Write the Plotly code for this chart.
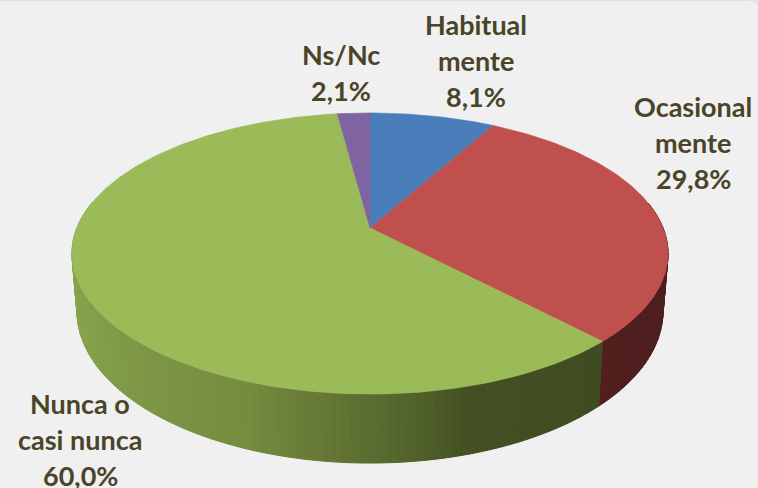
import math
import plotly.graph_objects as go

# Data
categories = ["Habitualmente", "Ocasionalmente", "Nunca o casi nunca", "Ns/Nc"]
values = [8.1, 29.8, 60.0, 2.1]
label_lines = [
    ["Habitual", "mente", "8,1%"],
    ["Ocasional", "mente", "29,8%"],
    ["Nunca o", "casi nunca", "60,0%"],
    ["Ns/Nc", "2,1%"],
]
top_colors = ["#4a7ebb", "#c0504d", "#9bbb59", "#8064a2"]

# Side shading stops: (x pixel, colour) per slice
green_stops = [(72, (134, 163, 76)), (130, (126, 152, 70)), (240, (118, 140, 64)),
               (330, (100, 118, 52)), (400, (84, 102, 44)), (470, (66, 80, 34)), (600, (62, 76, 32))]
red_stops = [(595, (84, 30, 30)), (668, (76, 30, 30))]
blue_stops = [(370, (60, 90, 130)), (500, (60, 90, 130))]
purple_stops = [(340, (90, 70, 115)), (372, (90, 70, 115))]
side_stops = [blue_stops, red_stops, green_stops, purple_stops]

# Perspective of the disc
CX, CY, D, F, G = 370.0, 228.0, 5.51, 1615.0, 749.0
SX, SY, DEPTH = 0.983, 1.08, 55.7


def rim(theta):
    X, Y = math.sin(theta), math.cos(theta)
    return CX + F * X / (D + Y), CY - G * Y / (D + Y)


def low(theta):
    x, y = rim(theta)
    return CX + (x - CX) * SX, CY + (y - CY) * SY + DEPTH


def shade(x, stops):
    if x <= stops[0][0]:
        c = stops[0][1]
    elif x >= stops[-1][0]:
        c = stops[-1][1]
    else:
        for (a, ca), (b, cb) in zip(stops, stops[1:]):
            if a <= x <= b:
                t = (x - a) / (b - a)
                c = tuple(ca[i] + (cb[i] - ca[i]) * t for i in range(3))
                break
    return "rgb(%d,%d,%d)" % tuple(round(v) for v in c)


fig = go.Figure()
total = sum(values)
edges = [0.0]
for v in values:
    edges.append(edges[-1] + v / total * 2 * math.pi)


def add_poly(xs, ys, color, lw=1.0):
    fig.add_trace(go.Scatter(x=xs, y=ys, mode="lines", fill="toself", fillcolor=color,
                             line=dict(color=color, width=lw), hoverinfo="skip", showlegend=False))


# Side wall (only the part facing the viewer is visible)
for i in range(len(values)):
    a0, a1 = edges[i], edges[i + 1]
    n = max(2, int((a1 - a0) / math.radians(1.5)))
    for k in range(n):
        t0 = a0 + (a1 - a0) * k / n
        t1 = a0 + (a1 - a0) * (k + 1) / n
        if math.cos((t0 + t1) / 2) > 0.2:
            continue
        p = [rim(t0), rim(t1), low(t1), low(t0)]
        mid = (p[0][0] + p[1][0]) / 2
        add_poly([q[0] for q in p] + [p[0][0]], [q[1] for q in p] + [p[0][1]],
                 shade(mid, side_stops[i]), 1.0)

# Top face
for i, color in enumerate(top_colors):
    a0, a1 = edges[i], edges[i + 1]
    n = max(8, int((a1 - a0) / math.radians(1)))
    pts = [rim(a0 + (a1 - a0) * k / n) for k in range(n + 1)]
    add_poly([CX] + [q[0] for q in pts] + [CX], [CY] + [q[1] for q in pts] + [CY], color, 0.6)

# Labels: (x, first-line y) anchor for each category
label_anchor = [(476, 24), (693, 106), (80, 403), (341, 54)]
LINE_STEP = 36
for lines, (lx, ly) in zip(label_lines, label_anchor):
    for j, line in enumerate(lines):
        fig.add_annotation(x=lx, y=ly + j * LINE_STEP, text="<b>%s</b>" % line, showarrow=False,
                           xanchor="center", yanchor="middle",
                           font=dict(family="Lato", size=27, color="#4a4429"))

fig.update_layout(
    width=758, height=488, margin=dict(l=0, r=0, t=0, b=0),
    paper_bgcolor="#f0f0f0", plot_bgcolor="#f0f0f0", showlegend=False,
    xaxis=dict(range=[0, 758], visible=False, fixedrange=True),
    yaxis=dict(range=[488, 0], visible=False, fixedrange=True),
    shapes=[
        dict(type="line", xref="paper", yref="paper", x0=0, x1=1, y0=1, y1=1,
             line=dict(color="#e0e0e0", width=2)),
        dict(type="path", xref="x", yref="y", path="M 748 0 Q 756 1 758 8 L 758 0 Z",
             fillcolor="#e4e4e4", line=dict(width=0)),
    ],
)
fig.write_html("out.html", config={"displayModeBar": False},
               post_script="document.body.style.margin='0';document.body.style.overflow='hidden';"
                           "document.body.style.background='#f0f0f0';")
